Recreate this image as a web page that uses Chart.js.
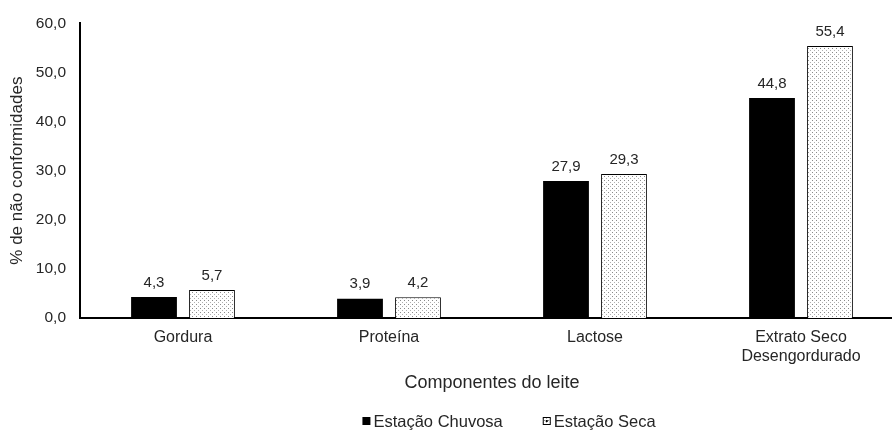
<!DOCTYPE html>
<html>
<head>
<meta charset="utf-8">
<script src="https://cdn.jsdelivr.net/npm/chart.js@4.4.0/dist/chart.umd.min.js"></script>
<style>
  html, body { margin: 0; padding: 0; background: #fff; overflow: hidden; }
  #wrap { width: 910px; height: 431px; }
</style>
</head>
<body>
<div id="wrap"><canvas id="c"></canvas></div>
<script>
const categories = ['Gordura', 'Proteína', 'Lactose', ['Extrato Seco', 'Desengordurado']];
const chuvosa = [4.3, 3.9, 27.9, 44.8];
const seca = [5.7, 4.2, 29.3, 55.4];
const seriesNames = ['Estação Chuvosa', 'Estação Seca'];

const FONT = '"Liberation Sans", Arial, sans-serif';
const TEXT = '#262626';

// light dotted fill for the dry-season bars
function dotPattern() {
  const p = document.createElement('canvas');
  p.width = 4; p.height = 4;
  const g = p.getContext('2d');
  g.fillStyle = '#ffffff';
  g.fillRect(0, 0, 4, 4);
  g.fillStyle = '#8a8a8a';
  g.fillRect(0, 0, 1, 1);
  g.fillStyle = '#b0b0b0';
  g.fillRect(2, 2, 1, 1);
  return g.createPattern(p, 'repeat');
}
const dots = dotPattern();

const fmt = v => v.toFixed(1).replace('.', ',');

// value labels above each bar
const valueLabels = {
  id: 'valueLabels',
  afterDatasetsDraw(chart) {
    const ctx = chart.ctx;
    ctx.save();
    ctx.font = '15px ' + FONT;
    ctx.fillStyle = TEXT;
    ctx.textAlign = 'center';
    ctx.textBaseline = 'bottom';
    chart.data.datasets.forEach((ds, i) => {
      chart.getDatasetMeta(i).data.forEach((bar, j) => {
        ctx.fillText(fmt(ds.data[j]), bar.x, bar.y - 7);
      });
    });
    ctx.restore();
  }
};

// compact legend row under the axis title
const bottomLegend = {
  id: 'bottomLegend',
  afterDraw(chart) {
    const ctx = chart.ctx;
    ctx.save();
    ctx.font = '16.5px ' + FONT;
    ctx.textBaseline = 'middle';
    const box = 8, gapText = 3, gapItem = 40;
    const items = chart.data.datasets.map(ds => ({ ds, w: ctx.measureText(ds.label).width }));
    const total = items.reduce((s, it) => s + box + gapText + it.w, 0) + gapItem * (items.length - 1);
    let x = (chart.chartArea.left + chart.chartArea.right) / 2 + 17 - total / 2;
    const y = chart.height - 10;
    items.forEach(({ ds, w }) => {
      ctx.fillStyle = ds.backgroundColor;
      ctx.fillRect(x, y - box / 2, box, box);
      if (ds.borderWidth) {
        ctx.strokeStyle = '#000';
        ctx.lineWidth = 1;
        ctx.strokeRect(x + 0.5, y - box / 2 + 0.5, box - 1, box - 1);
        ctx.fillStyle = '#000';
        ctx.fillRect(x + 3, y - 1, 2, 2);
      }
      x += box + gapText;
      ctx.fillStyle = TEXT;
      ctx.fillText(ds.label, x, y + 1);
      x += w + gapItem;
    });
    ctx.restore();
  }
};

new Chart(document.getElementById('c'), {
  type: 'bar',
  data: {
    labels: categories,
    datasets: [
      {
        label: seriesNames[0],
        data: chuvosa,
        backgroundColor: '#000000',
        borderColor: '#000000',
        borderWidth: 0,
        categoryPercentage: 0.563,
        barPercentage: 0.79
      },
      {
        label: seriesNames[1],
        data: seca,
        backgroundColor: dots,
        borderColor: '#000000',
        borderWidth: 1,
        categoryPercentage: 0.563,
        barPercentage: 0.79
      }
    ]
  },
  options: {
    responsive: true,
    maintainAspectRatio: false,
    animation: false,
    layout: { autoPadding: false, padding: { top: 12, right: 6, left: 0, bottom: 37 } },
    plugins: {
      tooltip: { enabled: false },
      legend: { display: false }
    },
    scales: {
      x: {
        grid: { display: false, drawTicks: false },
        border: { display: true, color: '#000', width: 2 },
        ticks: { font: { family: FONT, size: 16 }, color: TEXT, padding: 10, maxRotation: 0 },
        title: {
          display: true,
          text: 'Componentes do leite',
          font: { family: FONT, size: 18 },
          color: TEXT,
          padding: { top: 0, bottom: 0 }
        },
        afterFit: scale => { scale.height = 76; }
      },
      y: {
        min: 0,
        max: 60,
        grid: { display: false, drawTicks: false },
        border: { display: true, color: '#000', width: 2 },
        ticks: {
          stepSize: 10,
          font: { family: FONT, size: 15.5 },
          color: TEXT,
          padding: 14,
          callback: v => fmt(v)
        },
        title: {
          display: true,
          text: '% de não conformidades',
          font: { family: FONT, size: 17 },
          color: TEXT,
          padding: { top: 7, bottom: 0 }
        },
        afterFit: scale => { scale.width = 80; }
      }
    }
  },
  plugins: [valueLabels, bottomLegend]
});
</script>
</body>
</html>
